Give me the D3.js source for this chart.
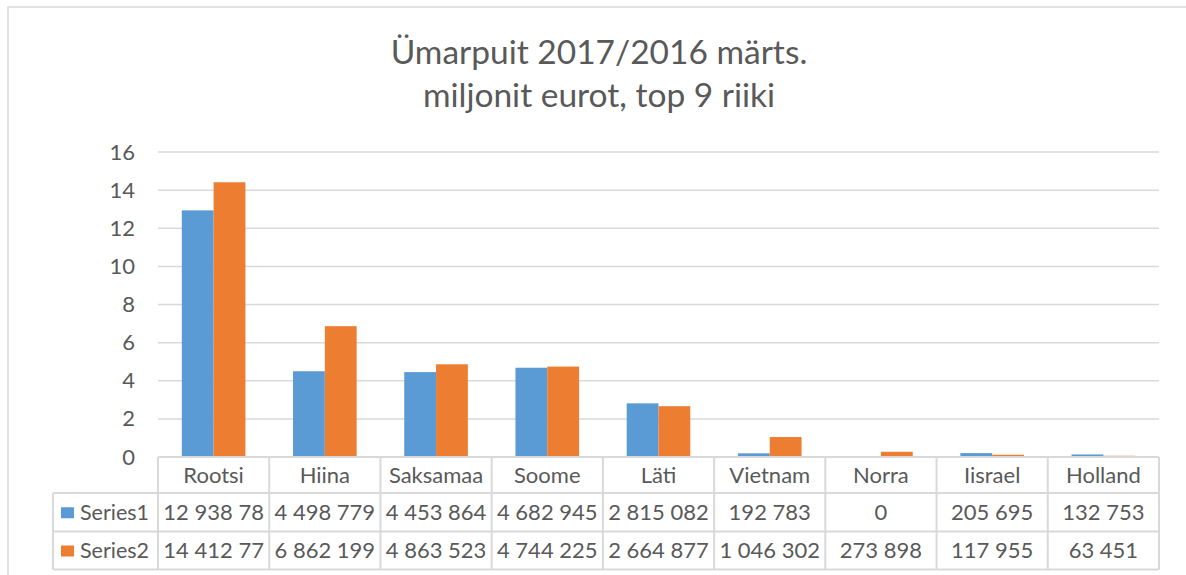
<!DOCTYPE html>
<html>
<head>
<meta charset="utf-8">
<script src="https://cdn.jsdelivr.net/npm/d3@7"></script>
<style>
  body { margin: 0; background: #fff; }
  svg { display: block; font-family: Lato, "Open Sans", sans-serif; }
  .grid line { stroke: #d9d9d9; stroke-width: 1.5; }
  .tbl line { stroke: #d9d9d9; stroke-width: 2; }
  text { fill: #595959; }
</style>
</head>
<body>
<svg id="chart" width="1186" height="575"></svg>
<script>
const countries = ["Rootsi", "Hiina", "Saksamaa", "Soome", "Läti", "Vietnam", "Norra", "Iisrael", "Holland"];
const seriesNames = ["Series1", "Series2"];
// values in million euros
const series1 = [12.93878, 4.498779, 4.453864, 4.682945, 2.815082, 0.192783, 0, 0.205695, 0.132753];
const series2 = [14.41277, 6.862199, 4.863523, 4.744225, 2.664877, 1.046302, 0.273898, 0.117955, 0.063451];
// labels as printed in the data table
const series1Labels = ["12 938 78", "4 498 779", "4 453 864", "4 682 945", "2 815 082", "192 783", "0", "205 695", "132 753"];
const series2Labels = ["14 412 77", "6 862 199", "4 863 523", "4 744 225", "2 664 877", "1 046 302", "273 898", "117 955", "63 451"];
const yTicks = [0, 2, 4, 6, 8, 10, 12, 14, 16];
const colors = ["#5b9bd5", "#ed7d31"];

const w = 1186, h = 575;
const margins = {top: 152, right: 27, bottom: 118, left: 158};
const legendLeft = 53;
const rowH = [36, 38.5, 38];
const FONT = '22px';

const svg = d3.select('#chart');

// outer frame
svg.append('rect')
  .attr('x', 8).attr('y', 7)
  .attr('width', w + 10).attr('height', h + 10)
  .attr('fill', 'none')
  .attr('stroke', '#d9d9d9')
  .attr('stroke-width', 1.5);

// title
const title = svg.append('text')
  .attr('text-anchor', 'middle')
  .style('font-size', '33.5px');
title.append('tspan').attr('x', 599).attr('y', 64).text('Ümarpuit 2017/2016 märts.');
title.append('tspan').attr('x', 599).attr('y', 107).text('miljonit eurot, top 9 riiki');

const xScale = d3.scaleBand()
  .domain(countries)
  .range([margins.left, w - margins.right]);

const gap = xScale.bandwidth() * 0.214;
const xInner = d3.scaleBand()
  .domain(seriesNames)
  .range([gap, xScale.bandwidth() - gap]);

const yScale = d3.scaleLinear()
  .domain([0, 16])
  .range([h - margins.bottom, margins.top]);

// gridlines
const grid = svg.append('g').attr('class', 'grid');
grid.selectAll('line')
  .data(yTicks.filter(d => d > 0))
  .join('line')
  .attr('x1', margins.left)
  .attr('x2', w - margins.right)
  .attr('y1', d => yScale(d))
  .attr('y2', d => yScale(d));

// y axis labels
const yAxis = d3.axisLeft(yScale).tickValues(yTicks).tickSize(0).tickPadding(23);
svg.append('g')
  .attr('transform', `translate(${margins.left},0)`)
  .call(yAxis)
  .call(g => g.select('.domain').remove())
  .call(g => g.selectAll('text').style('font-size', FONT).attr('fill', '#595959').style('font-family', 'Lato'));

// bars
const seriesData = [series1, series2];
const groups = svg.append('g').selectAll('g')
  .data(seriesData)
  .join('g')
  .attr('fill', (d, i) => colors[i]);

groups.each(function(vals, si) {
  d3.select(this).selectAll('rect')
    .data(vals)
    .join('rect')
    .attr('x', (d, i) => xScale(countries[i]) + xInner(seriesNames[si]))
    .attr('width', xInner.bandwidth())
    .attr('y', d => yScale(d))
    .attr('height', d => yScale(0) - yScale(d));
});

// data table
const y0 = yScale(0);
const rowTops = [y0, y0 + rowH[0], y0 + rowH[0] + rowH[1], y0 + rowH[0] + rowH[1] + rowH[2]];
const tbl = svg.append('g').attr('class', 'tbl');
const xRight = w - margins.right;

// horizontal lines
tbl.append('line').attr('x1', margins.left).attr('x2', xRight).attr('y1', rowTops[0]).attr('y2', rowTops[0]);
[1, 2, 3].forEach(r => {
  tbl.append('line').attr('x1', legendLeft).attr('x2', xRight).attr('y1', rowTops[r]).attr('y2', rowTops[r]);
});
// vertical lines
const colEdges = countries.map(c => xScale(c)).concat([xRight]);
tbl.selectAll('line.v')
  .data(colEdges)
  .join('line')
  .attr('class', 'v')
  .attr('x1', d => d).attr('x2', d => d)
  .attr('y1', rowTops[0]).attr('y2', rowTops[3]);
tbl.append('line').attr('x1', legendLeft).attr('x2', legendLeft).attr('y1', rowTops[1]).attr('y2', rowTops[3]);

// category labels
svg.append('g').selectAll('text')
  .data(countries)
  .join('text')
  .attr('x', d => xScale(d) + xScale.bandwidth() / 2)
  .attr('y', (rowTops[0] + rowTops[1]) / 2)
  .attr('dy', '0.35em')
  .attr('text-anchor', 'middle')
  .style('font-size', FONT)
  .text(d => d);

// value rows
const labelRows = [series1Labels, series2Labels];
labelRows.forEach((labels, r) => {
  const cy = (rowTops[r + 1] + rowTops[r + 2]) / 2;
  svg.append('g').selectAll('text')
    .data(labels)
    .join('text')
    .attr('x', (d, i) => xScale(countries[i]) + xScale.bandwidth() / 2)
    .attr('y', cy)
    .attr('dy', '0.35em')
    .attr('text-anchor', 'middle')
    .style('font-size', FONT)
    .text(d => d);

  // legend key
  svg.append('rect')
    .attr('x', 61).attr('y', cy - 5)
    .attr('width', 13).attr('height', 11)
    .attr('fill', colors[r]);
  svg.append('text')
    .attr('x', 80).attr('y', cy)
    .attr('dy', '0.35em')
    .style('font-size', '21.5px')
    .text(seriesNames[r]);
});
</script>
</body>
</html>
